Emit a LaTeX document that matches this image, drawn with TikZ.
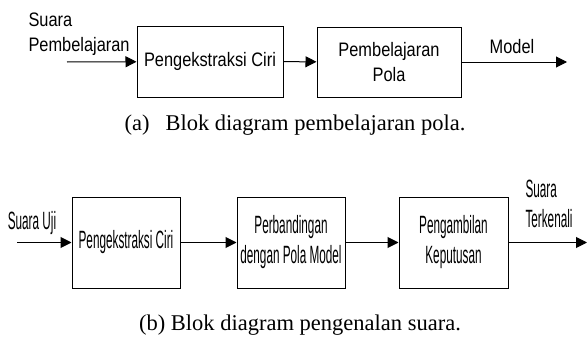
\documentclass[tikz,border=0pt]{standalone}
\usepackage{fontspec}
\setmainfont{Liberation Serif}
\newfontfamily\wideSans[FakeStretch=0.84]{Liberation Sans}
\newfontfamily\narrowSans[FakeStretch=0.47]{Liberation Sans}
\usepackage{tikz}
\usetikzlibrary{arrows.meta}
\tikzset{
  blok/.style={draw,line width=1pt,inner sep=0pt},
  txta/.style={font=\wideSans\fontsize{19.5}{25}\selectfont,align=center},
  txtb/.style={font=\narrowSans\fontsize{25}{30}\selectfont,align=center},
  capt/.style={font=\fontsize{22.5}{27}\selectfont}
}
\tikzstyle{arrow} = [line width=1pt,-{Triangle[length=11pt,width=11pt]}]

\begin{document}
\begin{tikzpicture}[x=1pt,y=-1pt]
  \useasboundingbox (0,0) rectangle (587,340);

  % (a) pembelajaran pola
  \node[blok,txta,minimum width=146pt,minimum height=71pt] (ciriA) at (210,61.5) {Pengekstraksi Ciri};
  \node[blok,txta,minimum width=144pt,minimum height=70pt] (polaA) at (389,62) {Pembelajaran\\Pola};
  \coordinate (inA) at (67,62);
  \coordinate (outA) at (567,62);
  \node[txta,align=left,anchor=west] (suaraA) at (25,34) {Suara\\Pembelajaran};
  \node[txta] (model) at (512,47) {Model};

  \draw[arrow] (inA) -- (ciriA);
  \draw[arrow] (ciriA) -- (polaA);
  \draw[arrow] (polaA) -- (outA);

  \node[capt] (captA) at (295,125) {(a)\hspace{16pt}Blok diagram pembelajaran pola.};

  % (b) pengenalan suara
  \node[blok,txtb,minimum width=108pt,minimum height=91pt] (ciriB) at (126,242.5) {Pengekstraksi Ciri};
  \node[blok,txtb,minimum width=108pt,minimum height=91pt] (banding) at (291,242.5) {Perbandingan\\dengan Pola Model};
  \node[blok,txtb,minimum width=109pt,minimum height=91pt] (putus) at (453.5,242.5) {Pengambilan\\Keputusan};
  \coordinate (inB) at (17,242.5);
  \coordinate (outB) at (587,242.5);
  \node[txtb] (uji) at (32,223) {Suara Uji};
  \node[txtb,align=left,anchor=west] (kenal) at (522,204) {Suara\\Terkenali};

  \draw[arrow] (inB) -- (ciriB);
  \draw[arrow] (ciriB) -- (banding);
  \draw[arrow] (banding) -- (putus);
  \draw[arrow] (putus) -- (outB);

  \node[capt] (captB) at (300,325) {(b) Blok diagram pengenalan suara.};
\end{tikzpicture}
\end{document}
